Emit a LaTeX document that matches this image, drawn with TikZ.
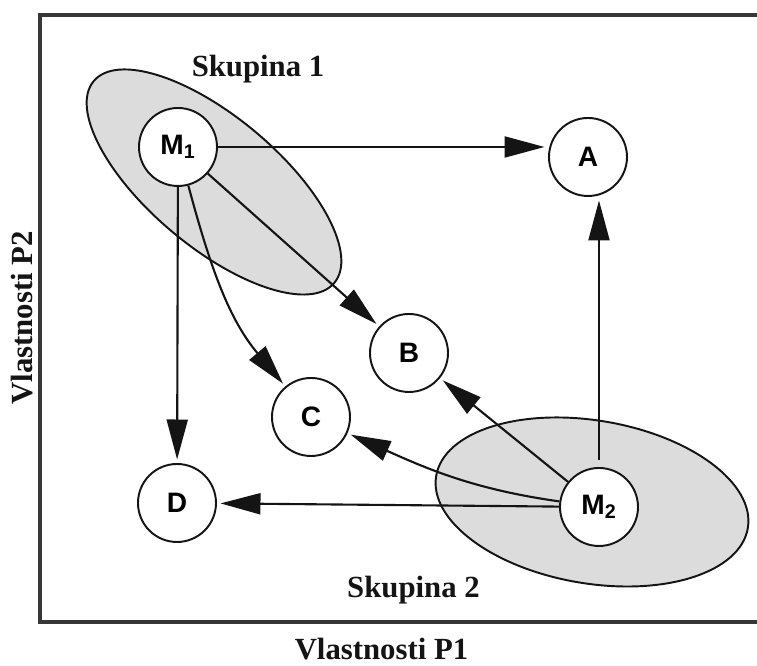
\documentclass[tikz,border=0pt]{standalone}
\usepackage{fontspec}
\setmainfont{Liberation Serif}
\setsansfont{Liberation Sans}
\usetikzlibrary{arrows.meta,calc}
\definecolor{ink}{RGB}{20,20,20}
\definecolor{haze}{RGB}{220,220,220}
\definecolor{rim}{RGB}{55,55,55}
\tikzset{
  >={Triangle[length=8mm,width=4.2mm]},
  point/.style={circle,draw=ink,fill=white,line width=1.1pt,minimum size=15.6mm,
    inner sep=0pt,font=\sffamily\bfseries\fontsize{16}{19}\selectfont},
  cluster/.style={draw=ink,fill=haze,line width=1.1pt},
  flow/.style={->,line width=1.2pt,draw=ink,shorten >=2pt},
  tag/.style={font=\bfseries\fontsize{17.5}{20}\selectfont,text=ink},
}

\begin{document}
\begin{tikzpicture}
  \useasboundingbox (0,0) rectangle (15.14,13.32);
  % frame, open at the right
  \draw[rim,line width=2pt] (15.4,13.02) -- (0.8,13.02) -- (0.8,0.88) -- (15.4,0.88);
  % clusters
  \draw[cluster,rotate around={-40:(4.28,9.68)}] (4.28,9.68) ellipse (3.14 and 1.30);
  \draw[cluster,rotate around={-9.5:(11.84,3.28)}] (11.84,3.28) ellipse (3.16 and 1.63);
  % points
  \node[point] (M1) at (3.56,10.38) {M\textsubscript{1}};
  \node[point] (A) at (11.76,10.18) {A};
  \node[point] (B) at (8.18,6.26) {B};
  \node[point] (C) at (6.22,4.98) {C};
  \node[point] (D) at (3.54,3.26) {D};
  \node[point] (M2) at (11.98,3.18) {M\textsubscript{2}};
  % labels
  \node[tag,anchor=base] (s1) at (5.16,11.78) {Skupina 1};
  \node[tag,anchor=base] (s2) at (8.27,1.36) {Skupina 2};
  \node[tag,anchor=base] (p1) at (7.63,0.12) {Vlastnosti P1};
  \node[tag,rotate=90] (p2) at (0.44,6.96) {Vlastnosti P2};
  % arrows
  \draw[flow] (M1) -- (M1 -| A.west);
  \draw[flow] (M1) -- (B);
  \draw[flow] (M1) to[out=-75,in=130] (C);
  \draw[flow] (M1) -- (D);
  \draw[flow,shorten <=4pt] (M2.north) -- (M2.north |- A.south);
  \draw[flow] (M2) -- (B);
  \draw[flow] (M2) to[out=172,in=-24] (C);
  \draw[flow] (M2) -- (D);
\end{tikzpicture}
\end{document}
